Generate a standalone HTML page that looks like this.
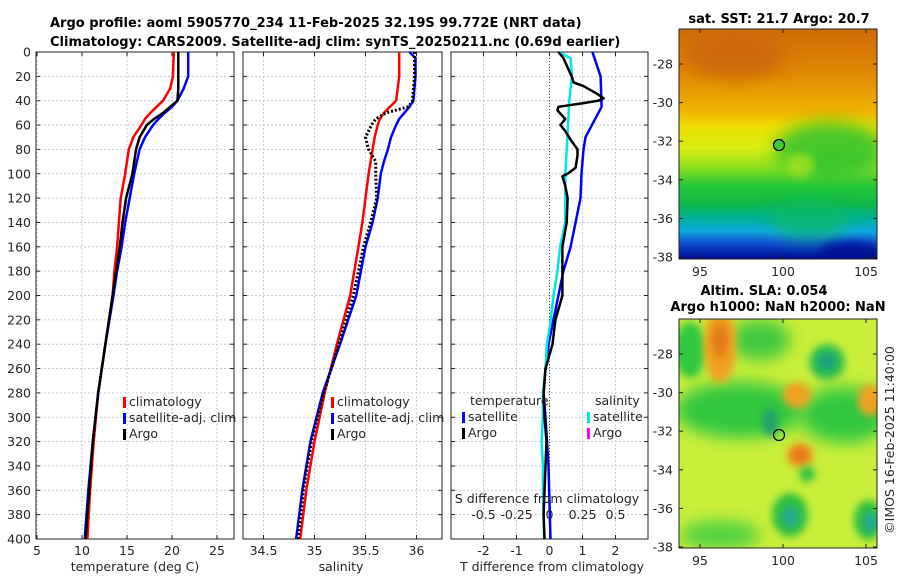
<!DOCTYPE html>
<html><head><meta charset="utf-8">
<style>
html,body{margin:0;padding:0;background:#fff;}
svg{display:block;font-family:"DejaVu Sans","Liberation Sans",sans-serif;}
.t{font-size:12.5px;fill:#262626;}
.b{font-size:13px;font-weight:bold;fill:#000;}
</style></head>
<body>
<svg id="fig" width="900" height="580" viewBox="0 0 900 580" xmlns="http://www.w3.org/2000/svg">
<defs>
  <linearGradient id="sstg" x1="0" y1="0" x2="0" y2="1">
    <stop offset="0" stop-color="#d06a08"/>
    <stop offset="0.2" stop-color="#e08a04"/>
    <stop offset="0.36" stop-color="#f0b400"/>
    <stop offset="0.42" stop-color="#eedc00"/>
    <stop offset="0.52" stop-color="#d8ec10"/>
    <stop offset="0.6" stop-color="#8ee020"/>
    <stop offset="0.68" stop-color="#28c838"/>
    <stop offset="0.76" stop-color="#10b848"/>
    <stop offset="0.83" stop-color="#00b0a0"/>
    <stop offset="0.88" stop-color="#10a8e0"/>
    <stop offset="0.93" stop-color="#1050d0"/>
    <stop offset="1" stop-color="#000a90"/>
  </linearGradient>
  <filter id="blur" x="-50%" y="-50%" width="200%" height="200%"><feGaussianBlur stdDeviation="8"/></filter>
  <filter id="blur2" x="-50%" y="-50%" width="200%" height="200%"><feGaussianBlur stdDeviation="4"/></filter>
  <clipPath id="c1"><rect x="679" y="29" width="198" height="230"/></clipPath>
  <clipPath id="c2"><rect x="679" y="319" width="198" height="229"/></clipPath>
</defs>

<text class="b" x="50" y="27">Argo profile: aoml 5905770_234 11-Feb-2025 32.19S 99.772E (NRT data)</text>
<text class="b" x="50" y="46">Climatology: CARS2009. Satellite-adj clim: synTS_20250211.nc (0.69d earlier)</text>

<g id="p1"></g>
<g id="p2"></g>
<g id="p3"></g>

<!-- SST map -->
<text class="b" x="779" y="23" text-anchor="middle">sat. SST: 21.7 Argo: 20.7</text>
<g clip-path="url(#c1)">
  <rect x="679" y="29" width="198" height="230" fill="url(#sstg)"/>
  <ellipse cx="735" cy="58" rx="50" ry="22" fill="#c85c08" opacity="0.6" filter="url(#blur)"/>
  <ellipse cx="830" cy="150" rx="55" ry="28" fill="#20c030" opacity="0.8" filter="url(#blur)"/>
  <ellipse cx="800" cy="165" rx="14" ry="12" fill="#a8e020" opacity="0.8" filter="url(#blur2)"/>
  <ellipse cx="810" cy="220" rx="40" ry="20" fill="#10b860" opacity="0.7" filter="url(#blur)"/>
  <ellipse cx="850" cy="252" rx="30" ry="10" fill="#000a90" opacity="0.8" filter="url(#blur2)"/>
</g>
<rect x="679" y="29" width="198" height="230" fill="none" stroke="#222" stroke-width="1"/>
<circle cx="779" cy="145" r="5.5" fill="#40c830" stroke="#000" stroke-width="1.2"/>

<!-- SLA map -->
<text class="b" x="764" y="295" text-anchor="middle">Altim. SLA: 0.054</text>
<text class="b" x="778" y="311" text-anchor="middle">Argo h1000: NaN h2000: NaN</text>
<g clip-path="url(#c2)">
  <rect x="679" y="319" width="198" height="229" fill="#c8ee3a"/>
  <ellipse cx="740" cy="410" rx="65" ry="28" fill="#30c840" filter="url(#blur)"/>
  <ellipse cx="845" cy="415" rx="45" ry="28" fill="#30c840" filter="url(#blur)"/>
  <ellipse cx="690" cy="350" rx="16" ry="28" fill="#30c840" filter="url(#blur2)"/>
  <ellipse cx="760" cy="340" rx="30" ry="20" fill="#40c840" filter="url(#blur)"/>
  <ellipse cx="720" cy="345" rx="16" ry="38" fill="#f0a020" filter="url(#blur2)"/>
  <ellipse cx="720" cy="340" rx="8" ry="18" fill="#e07a18" filter="url(#blur2)"/>
  <ellipse cx="797" cy="395" rx="14" ry="13" fill="#f0a020" filter="url(#blur2)"/>
  <ellipse cx="827" cy="362" rx="18" ry="18" fill="#30c050" filter="url(#blur2)"/>
  <ellipse cx="827" cy="362" rx="9" ry="9" fill="#18a080" filter="url(#blur2)"/>
  <ellipse cx="770" cy="422" rx="8" ry="14" fill="#20a070" filter="url(#blur2)"/>
  <ellipse cx="800" cy="455" rx="13" ry="12" fill="#f09020" filter="url(#blur2)"/>
  <ellipse cx="800" cy="455" rx="6" ry="6" fill="#e06a10" filter="url(#blur2)"/>
  <ellipse cx="870" cy="400" rx="12" ry="16" fill="#f0a020" filter="url(#blur2)"/>
  <ellipse cx="790" cy="515" rx="18" ry="22" fill="#30c040" filter="url(#blur2)"/>
  <ellipse cx="790" cy="517" rx="8" ry="10" fill="#20a898" filter="url(#blur2)"/>
  <ellipse cx="868" cy="520" rx="14" ry="20" fill="#30c040" filter="url(#blur2)"/>
  <ellipse cx="870" cy="522" rx="7" ry="10" fill="#20a898" filter="url(#blur2)"/>
  <ellipse cx="720" cy="535" rx="40" ry="14" fill="#50d040" filter="url(#blur)"/>
  <ellipse cx="807" cy="474" rx="8" ry="8" fill="#30c040" filter="url(#blur2)"/>
</g>
<rect x="679" y="319" width="198" height="229" fill="none" stroke="#222" stroke-width="1"/>
<circle cx="779" cy="435" r="5.5" fill="none" stroke="#000" stroke-width="1.2"/>
<g id="mapaxes"></g>

<text class="t" transform="translate(894,440) rotate(-90)" text-anchor="middle">©IMOS 16-Feb-2025 11:40:00</text>
</svg>

<script>
// ---- data ----
const tDepth = [0,20,30,40,45,50,55,60,70,80,100,120,140,160,180,200,240,280,320,360,400];
const tClim  = [20.2,20.1,19.8,19.0,18.3,17.6,17.0,16.6,15.7,15.2,14.8,14.3,14.1,13.9,13.6,13.4,12.6,11.8,11.3,10.9,10.6];
const tSat   = [21.8,21.8,21.3,20.6,20.0,19.2,18.5,17.9,17.0,16.4,15.8,15.3,14.8,14.4,13.9,13.5,12.6,11.8,11.2,10.7,10.3];
const tArgo  = [20.7,20.7,20.7,20.6,19.8,19.0,18.0,17.2,16.4,16.0,15.6,14.9,14.5,14.2,13.8,13.4,12.6,11.8,11.2,10.8,10.4];

const sDepth = [0,5,20,40,45,50,55,60,70,80,90,100,120,140,160,200,240,280,320,360,400];
const sClim  = [35.83,35.83,35.83,35.80,35.74,35.68,35.64,35.62,35.59,35.57,35.55,35.53,35.50,35.47,35.43,35.35,35.22,35.10,35.00,34.92,34.86];
const sSat   = [35.93,35.99,35.99,35.97,35.93,35.88,35.83,35.80,35.75,35.72,35.68,35.65,35.62,35.57,35.50,35.41,35.25,35.08,34.96,34.88,34.82];
const sArgo  = [35.98,35.98,35.98,35.96,35.92,35.70,35.60,35.56,35.50,35.53,35.60,35.60,35.61,35.55,35.48,35.38,35.24,35.09,34.97,34.89,34.84];

const dTSatDepth = [0,20,45,70,80,100,120,140,160,180,200,220,240,260,280,300,340,400];
const dTSat      = [1.30,1.55,1.58,1.09,1.03,0.97,0.94,0.79,0.64,0.42,0.27,0.12,-0.03,-0.12,-0.18,-0.12,-0.03,0.03];
const dSSatDepth = [0,5,20,40,60,80,100,120,140,160,180,200,220,240,260,280,300,320,340,360,400];
const dSSat      = [0.07,0.16,0.17,0.15,0.14,0.13,0.12,0.12,0.12,0.08,0.06,0.03,0.01,-0.02,-0.03,-0.05,-0.05,-0.06,-0.05,-0.05,-0.04];
const dTArgoDepth = [0,5,20,25,28,35,38,40,42,45,48,55,60,65,72,80,85,95,100,102,110,120,140,160,180,200,220,240,260,280,300,320,340,360,380,400];
const dTArgo      = [0.27,0.42,0.67,0.73,1.03,1.48,1.64,1.48,1.03,0.27,0.24,0.48,0.33,0.48,0.64,0.85,0.85,0.79,0.55,0.39,0.48,0.55,0.52,0.39,0.39,0.39,0.18,0.09,-0.12,-0.18,-0.15,-0.09,-0.12,-0.15,-0.18,-0.15];

const depthTicks = [0,20,40,60,80,100,120,140,160,180,200,220,240,260,280,300,320,340,360,380,400];
const tTicks = [5,10,15,20,25];
const sTicks = [34.5,35,35.5,36];
const sTickLabels = ['34.5','35','35.5','36'];
const dTTicks = [-2,-1,0,1,2];
const dSTicks = [-0.5,-0.25,0,0.25,0.5];
const dSTickLabels = ['-0.5','-0.25','0','0.25','0.5'];
const latTicks = [-28,-30,-32,-34,-36,-38];
const lonTicks = [95,100,105];

// ---- scales ----
const NS='http://www.w3.org/2000/svg';
const Y0=52, Y1=539;
const yD = d => Y0 + d*(Y1-Y0)/400;
const xT = t => 37 + (t-5)*9;
const xS = s => 314.5 + (s-35)*102;
const xDT = v => 549.5 + v*33;
const xDS = v => 549.5 + v*132;
const xLon = l => 700 + (l-95)*16.6;
const yLat1 = l => 64 + (-28-l)*19.3;
const yLat2 = l => 354 + (-28-l)*19.3;

function mk(tag, attrs, parent){
  const e=document.createElementNS(NS,tag);
  for(const k in attrs) e.setAttribute(k,attrs[k]);
  parent.appendChild(e); return e;
}
function txt(parent,x,y,s,anchor){
  const e=mk('text',{x:x,y:y,'class':'t','text-anchor':anchor||'middle'},parent);
  e.textContent=s; return e;
}
function line(parent,xs,ds,xf,color,w,dash){
  const pts=xs.map((v,i)=>xf(v).toFixed(1)+','+yD(ds[i]).toFixed(1)).join(' ');
  const a={points:pts,fill:'none',stroke:color,'stroke-width':w,'stroke-linejoin':'round'};
  if(dash) a['stroke-dasharray']=dash;
  return mk('polyline',a,parent);
}

function panel(g, x0, x1, xticks, xf, labels, showY){
  for(const d of depthTicks){
    const gl=mk('line',{x1:x0,x2:x1,y1:yD(d),y2:yD(d),stroke:'#b8bfd8','stroke-width':0.8,'stroke-dasharray':'2,2'},g);
    
    
    mk('line',{x1:x0,x2:x0+4,y1:yD(d),y2:yD(d),stroke:'#222'},g);
    mk('line',{x1:x1,x2:x1-4,y1:yD(d),y2:yD(d),stroke:'#222'},g);
    if(showY){
      const l=txt(g,x0-5,yD(d)+4.5,String(d),'end');
      
      
    }
  }
  xticks.forEach((v,i)=>{
    const x=xf(v);
    const gl=mk('line',{x1:x,x2:x,y1:Y0,y2:Y1,stroke:'#b8bfd8','stroke-width':0.8,'stroke-dasharray':'2,2'},g);
    
    
    mk('line',{x1:x,x2:x,y1:Y1,y2:Y1-4,stroke:'#222'},g);
    mk('line',{x1:x,x2:x,y1:Y0,y2:Y0+4,stroke:'#222'},g);
    const l=txt(g,x,Y1+16,labels[i]);
    
    
  });
  const fr=mk('rect',{x:x0,y:Y0,width:x1-x0,height:Y1-Y0,fill:'none',stroke:'#222','stroke-width':1},g);
  
  
}
function legendItem(g,x,y,color,label){
  const r=mk('rect',{x:x,y:y-9,width:3,height:11,fill:color},g);
  
  
  const t=txt(g,x+6,y,label,'start');
  
  
}

// Panel 1
const p1=document.getElementById('p1');
panel(p1,36,234,tTicks,xT,tTicks.map(String),true);
let s;
s=line(p1,tClim,tDepth,xT,'#ff0000',2.5);


s=line(p1,tSat,tDepth,xT,'#0000ff',2.5);


s=line(p1,tArgo,tDepth,xT,'#000000',2.5);


legendItem(p1,123,406,'#ff0000','climatology');
legendItem(p1,123,422,'#0000ff','satellite-adj. clim');
legendItem(p1,123,438,'#000000','Argo');
s=txt(p1,135,571,'temperature (deg C)');



// Panel 2
const p2=document.getElementById('p2');
panel(p2,243,442,sTicks,xS,sTickLabels,false);
s=line(p2,sClim,sDepth,xS,'#ff0000',2.5);


s=line(p2,sSat,sDepth,xS,'#0000ff',2.5);


s=line(p2,sArgo,sDepth,xS,'#000000',3,'2,2');


legendItem(p2,331,406,'#ff0000','climatology');
legendItem(p2,331,422,'#0000ff','satellite-adj. clim');
legendItem(p2,331,438,'#000000','Argo');
s=txt(p2,341,571,'salinity');



// Panel 3
const p3=document.getElementById('p3');
panel(p3,451,648,dTTicks,xDT,dTTicks.map(String),false);
mk('line',{x1:xDT(0),x2:xDT(0),y1:Y0,y2:Y1,stroke:'#2a5a2a','stroke-width':1,'stroke-dasharray':'1,2'},p3);
s=line(p3,dTSat,dTSatDepth,xDT,'#0000ff',2.5);


s=line(p3,dSSat,dSSatDepth,xDS,'#00e5e5',2.5);


s=line(p3,dTArgo,dTArgoDepth,xDT,'#000000',2.5);


s=txt(p3,470,405,'temperature','start');


s=txt(p3,595,405,'salinity','start');


legendItem(p3,462,421,'#0000ff','satellite');
legendItem(p3,462,437,'#000000','Argo');
legendItem(p3,587,421,'#00e5e5','satellite');
legendItem(p3,587,437,'#ff00ff','Argo');
s=txt(p3,547,503,'S difference from climatology');


dSTicks.forEach((v,i)=>{
  const l=txt(p3,xDS(v),519,dSTickLabels[i]);
  
  
});
s=txt(p3,552,571,'T difference from climatology');



// Map axes
const ma=document.getElementById('mapaxes');
for(const yf of [yLat1,yLat2]){
  latTicks.forEach(l=>{
    const y=yf(l);
    mk('line',{x1:679,x2:683,y1:y,y2:y,stroke:'#222'},ma);
    mk('line',{x1:877,x2:873,y1:y,y2:y,stroke:'#222'},ma);
    const t=txt(ma,673,y+4.5,String(l),'end');
    
    
  });
}
for(const [yb,yt] of [[259,29],[548,319]]){
  lonTicks.forEach(l=>{
    const x=xLon(l);
    mk('line',{x1:x,x2:x,y1:yb,y2:yb-4,stroke:'#222'},ma);
    mk('line',{x1:x,x2:x,y1:yt,y2:yt+4,stroke:'#222'},ma);
    const t=txt(ma,x,yb+17,String(l));
    
    
  });
}
</script>
</body></html>
